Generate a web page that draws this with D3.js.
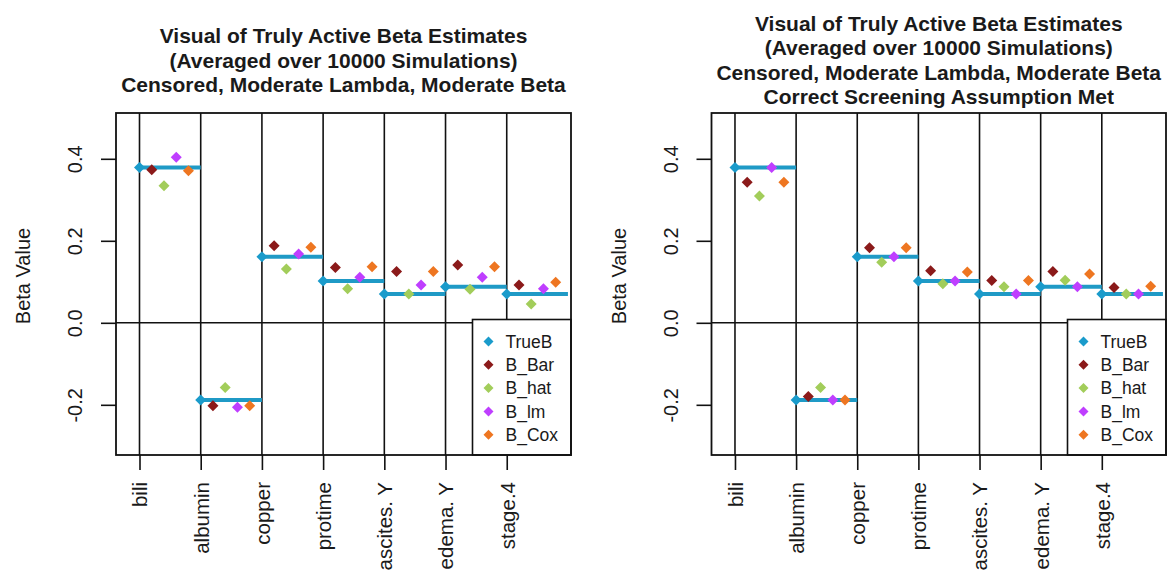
<!DOCTYPE html>
<html>
<head>
<meta charset="utf-8">
<script src="https://cdn.jsdelivr.net/npm/d3@7"></script>
<style>
  html, body { margin: 0; padding: 0; background: #fff; }
  svg { display: block; }
  text { font-family: "Liberation Sans", Arial, sans-serif; fill: #1a1a1a; }
</style>
</head>
<body>
<svg id="chart" width="1167" height="581"></svg>
<script>
// ---------------- data ----------------
const categories = ["bili", "albumin", "copper", "protime", "ascites. Y", "edema. Y", "stage.4"];
const seriesNames = ["TrueB", "B_Bar", "B_hat", "B_lm", "B_Cox"];
const legendLabels = ["TrueB", "B_Bar", "B_hat", "B_lm", "B_Cox"];
const seriesColors = ["#1a9bcb", "#8b1a1a", "#a2cd5a", "#bf3eff", "#ee7621"];
const yTicks = [-0.2, 0.0, 0.2, 0.4];
const yTickLabels = ["-0.2", "0.0", "0.2", "0.4"];

const trueB = [0.379, -0.188, 0.161, 0.102, 0.070, 0.088, 0.070];

// left panel (all variables screened)
const leftBBar = [0.373, -0.202, 0.188, 0.135, 0.125, 0.141, 0.092];
const leftBHat = [0.334, -0.158, 0.131, 0.083, 0.070, 0.082, 0.046];
const leftBLm  = [0.404, -0.206, 0.168, 0.111, 0.092, 0.111, 0.083];
const leftBCox = [0.371, -0.202, 0.184, 0.137, 0.125, 0.137, 0.099];

// right panel (correct screening assumption met)
const rightBBar = [0.343, -0.180, 0.183, 0.127, 0.103, 0.125, 0.086];
const rightBHat = [0.309, -0.158, 0.148, 0.095, 0.088, 0.104, 0.070];
const rightBLm  = [0.379, -0.188, 0.161, 0.102, 0.070, 0.088, 0.070];
const rightBCox = [0.343, -0.188, 0.183, 0.124, 0.103, 0.119, 0.089];

const leftTitle = ["Visual of Truly Active Beta Estimates",
                   "(Averaged over 10000 Simulations)",
                   "Censored, Moderate Lambda, Moderate Beta"];
const rightTitle = ["Visual of Truly Active Beta Estimates",
                    "(Averaged over 10000 Simulations)",
                    "Censored, Moderate Lambda, Moderate Beta",
                    "Correct Screening Assumption Met"];
const yLabel = "Beta Value";

// ---------------- drawing ----------------
const svg = d3.select("#chart");
const offsets = [0, 0.2, 0.4, 0.6, 0.8];

function diamond(r) {
  return `M0,${-r}L${r},0L0,${r}L${-r},0Z`;
}

function panel(box, title, series) {
  const x = d3.scaleLinear().domain([0.616, 8.05]).range([box.x0, box.x1]);
  const y = d3.scaleLinear().domain([-0.3224, 0.5117]).range([box.y1, box.y0]);
  const g = svg.append("g");

  // vertical reference lines
  g.selectAll("line.v").data(categories).join("line")
    .attr("x1", (d, i) => x(i + 1)).attr("x2", (d, i) => x(i + 1))
    .attr("y1", box.y0).attr("y2", box.y1)
    .attr("stroke", "#111").attr("stroke-width", 1.6);
  // zero line
  g.append("line")
    .attr("x1", box.x0).attr("x2", box.x1)
    .attr("y1", y(0)).attr("y2", y(0))
    .attr("stroke", "#111").attr("stroke-width", 1.6);

  // true beta step segments
  g.selectAll("line.t").data(trueB).join("line")
    .attr("x1", (d, i) => x(i + 1)).attr("x2", (d, i) => x(i + 2))
    .attr("y1", d => y(d)).attr("y2", d => y(d))
    .attr("stroke", "#1f9ac6").attr("stroke-width", 4);

  // points
  series.forEach((vals, s) => {
    g.selectAll(null).data(vals).join("path")
      .attr("d", diamond(5.5))
      .attr("transform", (d, i) => `translate(${x(i + 1 + offsets[s])},${y(d)})`)
      .attr("fill", seriesColors[s]);
  });

  // axes
  const ya = d3.axisLeft(y).tickValues(yTicks)
    .tickFormat((d, i) => yTickLabels[i]).tickSize(15).tickSizeOuter(0);
  const yg = g.append("g").attr("transform", `translate(${box.x0},0)`).call(ya);
  yg.select(".domain").remove();
  yg.selectAll(".tick line").attr("stroke", "#111").attr("stroke-width", 1.6);
  yg.selectAll(".tick text")
    .attr("x", null).attr("dy", null)
    .attr("text-anchor", "middle")
    .attr("transform", "translate(-34,0) rotate(-90)")
    .style("font-size", "20px").style("font-family", "Liberation Sans, Arial, sans-serif")
    .attr("fill", "#1a1a1a");

  const xa = d3.axisBottom(x).tickValues(d3.range(1, categories.length + 1))
    .tickFormat(d => categories[d - 1]).tickSize(15).tickSizeOuter(0);
  const xg = g.append("g").attr("transform", `translate(0,${box.y1})`).call(xa);
  xg.select(".domain").remove();
  xg.selectAll(".tick line").attr("stroke", "#111").attr("stroke-width", 1.6);
  xg.selectAll(".tick text")
    .attr("y", null).attr("dy", "0.36em")
    .attr("text-anchor", "end")
    .attr("transform", "translate(0,27) rotate(-90)")
    .style("font-size", "20.5px").style("font-family", "Liberation Sans, Arial, sans-serif")
    .attr("fill", "#1a1a1a");

  // y axis label
  g.append("text")
    .attr("transform", `translate(${box.x0 - 86},276) rotate(-90)`)
    .attr("text-anchor", "middle")
    .style("font-size", "20px")
    .text(yLabel);

  // title
  const cx = (box.x0 + box.x1) / 2;
  const lh = 24.3;
  const mid = 67.5;
  const first = mid - (title.length - 1) * lh / 2;
  g.selectAll("text.title").data(title).join("text")
    .attr("x", cx).attr("y", (d, i) => first + i * lh)
    .attr("text-anchor", "middle")
    .style("font-size", "21px").style("font-weight", "bold")
    .text(d => d);

  // legend
  const lw = 98.5, lt = box.y1 - 135.5;
  const lg = g.append("g");
  lg.append("rect")
    .attr("x", box.x1 - lw).attr("y", lt).attr("width", lw).attr("height", box.y1 - lt)
    .attr("fill", "#fff").attr("stroke", "#111").attr("stroke-width", 1.6);
  legendLabels.forEach((lab, s) => {
    const ry = lt + 22 + s * 23.3;
    lg.append("path").attr("d", diamond(5))
      .attr("transform", `translate(${box.x1 - lw + 16},${ry})`)
      .attr("fill", seriesColors[s]);
    lg.append("text").attr("x", box.x1 - lw + 33).attr("y", ry).attr("dy", "0.36em")
      .style("font-size", "17.5px").text(lab);
  });

  // plot box
  g.append("rect")
    .attr("x", box.x0).attr("y", box.y0)
    .attr("width", box.x1 - box.x0).attr("height", box.y1 - box.y0)
    .attr("fill", "none").attr("stroke", "#111").attr("stroke-width", 1.8);
}

panel({ x0: 116, x1: 571, y0: 113, y1: 455 }, leftTitle,
      [trueB, leftBBar, leftBHat, leftBLm, leftBCox]);
panel({ x0: 711.5, x1: 1166, y0: 113, y1: 455 }, rightTitle,
      [trueB, rightBBar, rightBHat, rightBLm, rightBCox]);
</script>
</body>
</html>
